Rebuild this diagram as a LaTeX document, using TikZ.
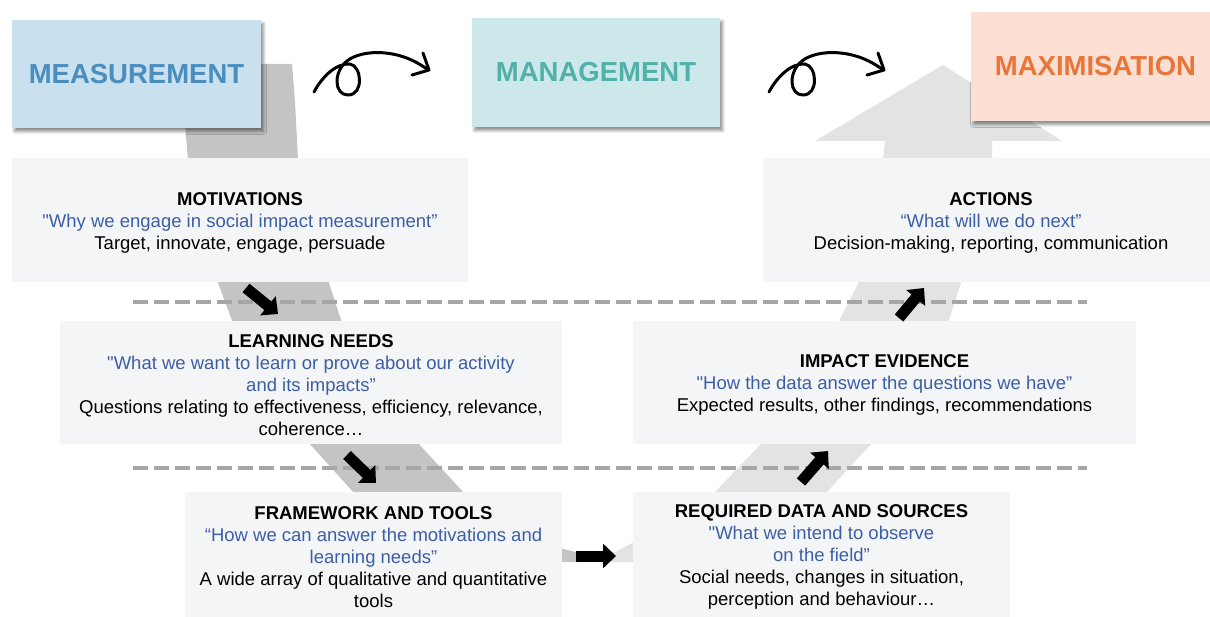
\documentclass[tikz,border=0pt]{standalone}
\usepackage{fontspec}
\setmainfont{Liberation Sans}
% same face without the TeX mapping, so that a typed " stays straight
\newfontfamily\arialfont{Liberation Sans}
\usetikzlibrary{arrows.meta,shadows.blur}

\definecolor{measfill}{HTML}{C9E1EE}
\definecolor{meastext}{HTML}{4A8DBE}
\definecolor{mgmtfill}{HTML}{CDE8EB}
\definecolor{mgmttext}{HTML}{52B0AA}
\definecolor{maxfill}{HTML}{FADFD2}
\definecolor{maxtext}{HTML}{E8763A}
\definecolor{panelfill}{HTML}{F4F5F7}
\definecolor{banddark}{HTML}{C4C4C4}
\definecolor{bandlight}{HTML}{E3E3E3}
\definecolor{dashgray}{HTML}{A6A6A6}
\definecolor{quote}{HTML}{3C5EA6}

% top strut for the heading line of each panel
\newcommand{\headstrut}{\rule{0pt}{18.5pt}}

\begin{document}
\begin{tikzpicture}[x=1pt,y=-1pt,
  stage/.style={inner sep=0pt, minimum height=109pt, minimum width=249pt,
    font=\arialfont\fontsize{27.5}{33}\selectfont\bfseries,
    blur shadow={shadow xshift=2.5pt, shadow yshift=-3.5pt,
      shadow blur radius=3pt, shadow opacity=45}},
  panelbox/.style={fill=panelfill, inner sep=0pt, align=center,
    font=\arialfont\fontsize{18.5}{22}\selectfont},
  dashline/.style={draw=dashgray, line width=4.5pt, dash pattern=on 15pt off 6pt},
  blockarrow/.style={line width=11pt, -{Triangle[length=13pt,width=24pt]}},
  curl/.pic={
    \draw[line width=3pt, line cap=round, line join=round]
      (314,92) .. controls (322,77) and (336,63) .. (350,64)
      .. controls (362,66) and (364,95) .. (348,95)
      .. controls (334,95) and (333,72) .. (347,61)
      .. controls (362,49) and (400,48) .. (428,70);
    \draw[line width=3pt, line cap=round, line join=round]
      (423,53) -- (429,70) -- (412,75);
  }
]
\useasboundingbox (0,0) rectangle (1210,617);
\clip (0,0) rectangle (1210,617);

% the U-shaped band running behind the panels
\fill[banddark] (180,64) -- (292,64) .. controls (295,100) .. (298,160) -- (188,160) -- cycle;
\fill[banddark] (217,280) -- (328,280) -- (342,323) -- (233,323) -- cycle;
\fill[banddark] (308,442) -- (417,442) -- (465,494) -- (355,494) -- cycle;
\fill[banddark] (560,548) -- (580,553) -- (580,562) -- (560,562) -- cycle;
\fill[bandlight] (604,558) -- (636,541) -- (636,562) -- (604,562) -- cycle;
\fill[bandlight] (713,494) -- (825,494) -- (873,442) -- (763,442) -- cycle;
\fill[bandlight] (838,323) -- (948,323) -- (962,280) -- (860,280) -- cycle;
\fill[bandlight] (883,160) -- (992,160) -- (992,141) -- (1062,141) -- (943,65)
  -- (815,141) -- (885,141) -- cycle;

% separators
\draw[dashline] (133,302) -- (1087,302);
\draw[dashline] (133,468) -- (1087,468);

% stages
\node[stage, fill=measfill, text=meastext, minimum height=108pt] (meas) at (136.5,74) {MEASUREMENT};
\node[stage, fill=mgmtfill, text=mgmttext, minimum width=248pt] (mgmt) at (596,72.5) {MANAGEMENT};
\node[stage, fill=maxfill, text=maxtext] (maxi) at (1095.5,66.5) {MAXIMISATION};

\pic at (0,0) {curl};
\pic at (455,0) {curl};

% panels
\node[panelbox, minimum width=456pt, minimum height=124pt] (motiv) at (240,220)
  {\headstrut\textbf{MOTIVATIONS}\\
   \textcolor{quote}{"Why we engage in social impact measurement”}\\
   Target, innovate, engage, persuade};
\node[panelbox, minimum width=456pt, minimum height=124pt] (act) at (991,220)
  {\headstrut\textbf{ACTIONS}\\
   \textcolor{quote}{“What will we do next”}\\
   Decision-making, reporting, communication};
\node[panelbox, minimum width=502pt, minimum height=123pt] (learn) at (311,382.5)
  {\headstrut\textbf{LEARNING NEEDS}\\
   \textcolor{quote}{"What we want to learn or prove about our activity}\\
   \textcolor{quote}{and its impacts”}\\
   Questions relating to effectiveness, efficiency, relevance,\\
   coherence…};
\node[panelbox, minimum width=503pt, minimum height=123pt] (impact) at (884.5,382.5)
  {\headstrut\textbf{IMPACT EVIDENCE}\\
   \textcolor{quote}{"How the data answer the questions we have”}\\
   Expected results, other findings, recommendations};
\node[panelbox, minimum width=377pt, minimum height=125pt] (frame) at (373.5,554.5)
  {\headstrut\textbf{FRAMEWORK AND TOOLS}\\
   \textcolor{quote}{“How we can answer the motivations and}\\
   \textcolor{quote}{learning needs”}\\
   A wide array of qualitative and quantitative\\
   tools};
\node[panelbox, minimum width=377pt, minimum height=125pt] (data) at (821.5,554.5)
  {\headstrut\textbf{REQUIRED DATA AND SOURCES}\\
   \textcolor{quote}{"What we intend to observe}\\
   \textcolor{quote}{on the field”}\\
   Social needs, changes in situation,\\
   perception and behaviour…};

% step arrows
\coordinate (s1) at (246,288); \coordinate (e1) at (278,314);
\coordinate (s2) at (347,455); \coordinate (e2) at (376,483);
\coordinate (s3) at (576,556); \coordinate (e3) at (616,556);
\coordinate (s4) at (801,482); \coordinate (e4) at (828,451);
\coordinate (s5) at (899,318); \coordinate (e5) at (924,288);
\draw[blockarrow] (s1) -- (e1);
\draw[blockarrow] (s2) -- (e2);
\draw[blockarrow] (s3) -- (e3);
\draw[blockarrow] (s4) -- (e4);
\draw[blockarrow] (s5) -- (e5);
\end{tikzpicture}
\end{document}
